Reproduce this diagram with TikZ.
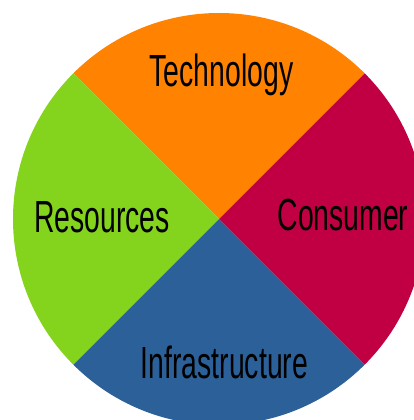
\documentclass[tikz,border=0pt]{standalone}
\usepackage{fontspec}
\newfontfamily\segfont{Liberation Sans}[FakeStretch=0.63]
\definecolor{segorange}{HTML}{FF8200}
\definecolor{seggreen}{HTML}{84D31C}
\definecolor{segred}{HTML}{C00042}
\definecolor{segblue}{HTML}{2C6098}

\begin{document}
\begin{tikzpicture}[x=1pt, y=1pt]
      \useasboundingbox (-219,-201) rectangle (195,219);

      % four quarter wedges of the wheel
      \coordinate (O) at (0,0);
      \fill[segorange] (O) -- (45:206pt) arc (45:135:206pt) -- cycle;
      \fill[seggreen] (O) -- (135:206pt) arc (135:225:206pt) -- cycle;
      \fill[segblue] (O) -- (225:206pt) arc (225:315:206pt) -- cycle;
      \fill[segred] (O) -- (315:206pt) arc (315:405:206pt) -- cycle;

      \begin{scope}[every node/.style={anchor = base, inner sep = 0, font=\segfont\fontsize{45}{45}\selectfont}]
          \node (tech) at (2.5, 132) {Technology};
          \node (res) at (-117, -13.7) {Resources};
          \node (cons) at (124, -12) {Consumer};
          \node (infra) at (5.5, -159) {Infrastructure};
      \end{scope}
      \end{tikzpicture}
\end{document}
